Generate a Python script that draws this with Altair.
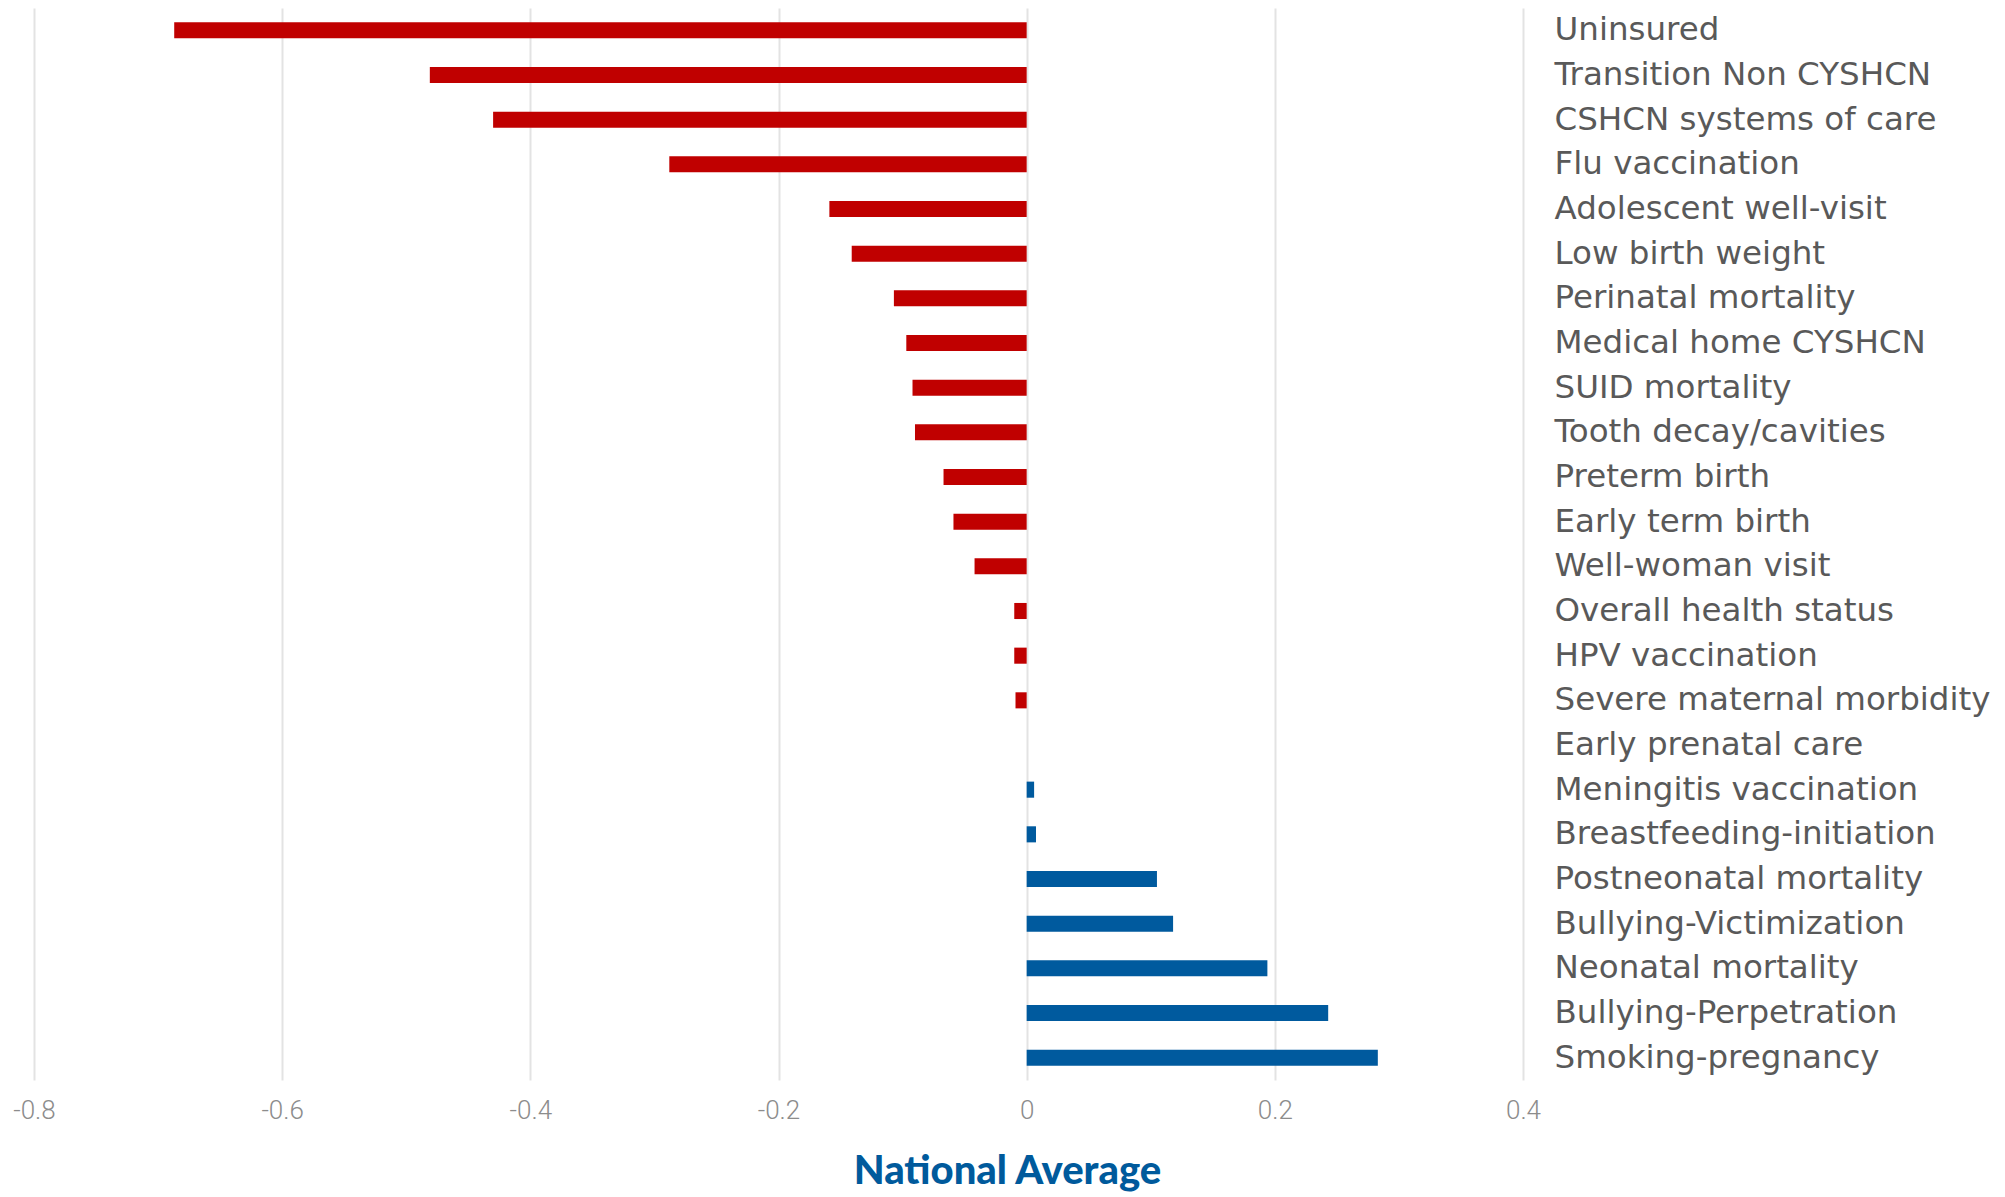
import altair as alt
import pandas as pd

categories = [
    "Uninsured", "Transition Non CYSHCN", "CSHCN systems of care", "Flu vaccination",
    "Adolescent well-visit", "Low birth weight", "Perinatal mortality", "Medical home CYSHCN",
    "SUID mortality", "Tooth decay/cavities", "Preterm birth", "Early term birth",
    "Well-woman visit", "Overall health status", "HPV vaccination", "Severe maternal morbidity",
    "Early prenatal care", "Meningitis vaccination", "Breastfeeding-initiation",
    "Postneonatal mortality", "Bullying-Victimization", "Neonatal mortality",
    "Bullying-Perpetration", "Smoking-pregnancy",
]
values = [
    -0.687, -0.481, -0.430, -0.288,
    -0.159, -0.141, -0.107, -0.097,
    -0.092, -0.090, -0.067, -0.059,
    -0.042, -0.010, -0.010, -0.009,
    0.0, 0.006, 0.0075,
    0.105, 0.118, 0.194,
    0.243, 0.283,
]
tick_values = [-0.8, -0.6, -0.4, -0.2, 0.0, 0.2, 0.4]

df = pd.DataFrame({"measure": categories, "value": values})
df["sign"] = ["neg" if v < 0 else "pos" for v in values]

chart = (
    alt.Chart(df)
    .mark_bar()
    .encode(
        y=alt.Y(
            "measure:N",
            sort=categories,
            scale=alt.Scale(paddingInner=0.64, paddingOuter=0.32),
            axis=alt.Axis(
                orient="right", title=None, domain=False, ticks=False, grid=False,
                labelAlign="left", labelPadding=31, labelFont="DejaVu Sans",
                labelFontSize=32.5, labelColor="#595959", labelBaseline="middle",
                labelLimit=600,
            ),
        ),
        x=alt.X(
            "value:Q",
            scale=alt.Scale(domain=[-0.8, 0.4], nice=False, zero=False),
            axis=alt.Axis(
                values=tick_values, domain=False, ticks=False, grid=True,
                gridColor="#e3e3e3", gridWidth=2, labelFlush=False,
                labelExpr="datum.value == 0 ? '0' : (datum.value < 0 ? '-' : '') + format(abs(datum.value), '.1f')",
                labelFont="Roboto", labelFontWeight=300, labelFontSize=26,
                labelColor="#8c8c8c", labelPadding=17,
                title="National Average",
                titleFont="Lato",
                titleFontWeight=900, titleFontSize=40, titleColor="#005A9C",
                titleX=973, titleY=103, titleAlign="center", titleBaseline="alphabetic",
            ),
        ),
        color=alt.Color(
            "sign:N",
            scale=alt.Scale(domain=["neg", "pos"], range=["#C00000", "#005A9E"]),
            legend=None,
        ),
    )
    .properties(
        width=1489,
        height=1072,
        autosize=alt.AutoSizeParams(type="none"),
        padding={"left": 26, "top": 0, "right": 474, "bottom": 117},
    )
    .configure_view(stroke=None)
)

chart.save("out.html", embed_options={"renderer": "svg", "actions": False})
